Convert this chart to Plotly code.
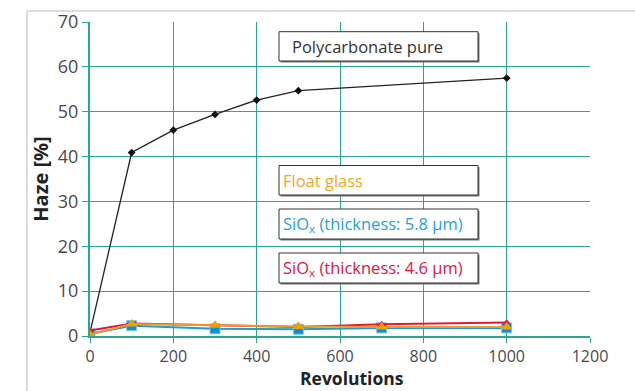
import plotly.graph_objects as go

# ---- data ----
pc_x = [0, 100, 200, 300, 400, 500, 1000]
pc_y = [0.8, 40.9, 45.9, 49.4, 52.6, 54.7, 57.5]

glass_x = [0, 100, 300, 500, 700, 1000]
glass_y = [0.3, 2.7, 2.4, 2.1, 2.0, 2.0]

sio58_x = [0, 100, 300, 500, 700, 1000]
sio58_y = [0.5, 2.3, 1.6, 1.5, 1.8, 1.8]

sio46_x = [0, 100, 300, 500, 700, 1000]
sio46_y = [1.2, 2.8, 2.4, 2.0, 2.6, 3.0]

x_ticks = [0, 200, 400, 600, 800, 1000, 1200]
y_ticks = [0, 10, 20, 30, 40, 50, 60, 70]

labels = ["Polycarbonate pure", "Float glass",
          "SiO<sub>x</sub> (thickness: 5.8 µm)",
          "SiO<sub>x</sub> (thickness: 4.6 µm)"]
label_colors = ["#333333", "#f5a623", "#1ea1dc", "#e2163f"]

TEAL = "#2fa58f"
FONT = "Open Sans"

fig = go.Figure()
fig.add_trace(go.Scatter(x=pc_x, y=pc_y, mode="lines+markers",
                         line=dict(color="#222222", width=1.3),
                         marker=dict(symbol="diamond", size=6, color="#111111")))
fig.add_trace(go.Scatter(x=sio58_x, y=sio58_y, mode="lines+markers",
                         line=dict(color="#1a9be0", width=2),
                         marker=dict(symbol="square", size=10, color="#0a8fd8",
                                     line=dict(color="#7cc6ee", width=1))))
fig.add_trace(go.Scatter(x=sio46_x, y=sio46_y, mode="lines+markers",
                         line=dict(color="#e2163f", width=2),
                         marker=dict(symbol="triangle-up", size=7, color="#e2163f")))
fig.add_trace(go.Scatter(x=glass_x, y=glass_y, mode="lines+markers",
                         line=dict(color="#f29a1e", width=2),
                         marker=dict(symbol="triangle-up", size=10, color="#e8a30a")))

# label boxes (paper coords)
boxes = [(31.7, 61.0), (165.5, 195.0), (209.0, 239.0), (253.0, 283.0)]
def py(p):
    return (336 - p) / 314.0
bx0 = (279 - 90) / 500.0
bx1 = (478 - 90) / 500.0
shapes = []
annos = []
for (t, b), lab, col in zip(boxes, labels, label_colors):
    # shadow
    shapes.append(dict(type="rect", xref="paper", yref="paper",
                       x0=bx0 + 0.003, x1=bx1 + 0.003, y0=py(b) - 0.005, y1=py(t) - 0.005,
                       line=dict(width=0), fillcolor="#777777", layer="above"))
    shapes.append(dict(type="rect", xref="paper", yref="paper",
                       x0=bx0, x1=bx1, y0=py(b), y1=py(t),
                       line=dict(color="#333333", width=1), fillcolor="white", layer="above"))
    tx = bx0 + (11 if lab.startswith("Poly") else 2) / 500.0
    annos.append(dict(text=lab, xref="paper", yref="paper", x=tx, y=(py(b) + py(t)) / 2,
                      xanchor="left", yanchor="middle", showarrow=False,
                      font=dict(family=FONT, size=16.5, color=col)))

# x-axis title as annotation
annos.append(dict(text="<b>Revolutions</b>", xref="paper", yref="paper",
                  x=(352 - 90) / 500.0, y=py(378), xanchor="center", yanchor="middle",
                  showarrow=False, font=dict(family=FONT, size=17.5, color="#222222")))

# gray outer frame
shapes.append(dict(type="line", xref="paper", yref="paper",
                   x0=(27 - 90) / 500.0, x1=1.2, y0=py(11), y1=py(11),
                   line=dict(color="#dddddd", width=2), layer="below"))
shapes.append(dict(type="line", xref="paper", yref="paper",
                   x0=(27 - 90) / 500.0, x1=(27 - 90) / 500.0, y0=py(11), y1=-0.3,
                   line=dict(color="#dddddd", width=2), layer="below"))

fig.update_layout(
    width=635, height=391,
    margin=dict(l=90, r=45, t=22, b=55, autoexpand=False),
    paper_bgcolor="white", plot_bgcolor="white",
    showlegend=False,
    shapes=shapes, annotations=annos,
    font=dict(family=FONT, size=15, color="#444444"),
)
fig.update_xaxes(range=[0, 1200], tickvals=x_ticks, showgrid=True, gridcolor=TEAL, gridwidth=1,
                 zeroline=False, showline=True, linecolor=TEAL, linewidth=2,
                 ticks="outside", ticklen=5, tickcolor=TEAL, automargin=False,
                 tickfont=dict(family=FONT, size=16, color="#4a4a4a"))
fig.update_yaxes(range=[0, 70], tickvals=y_ticks, showgrid=True, gridcolor=TEAL, gridwidth=1,
                 zeroline=False, showline=True, linecolor=TEAL, linewidth=2,
                 ticks="outside", ticklen=6, tickcolor=TEAL, automargin=False,
                 tickfont=dict(family=FONT, size=18, color="#4a4a4a"),
                 title=dict(text="<b>Haze [%]</b>", standoff=4,
                            font=dict(family=FONT, size=20, color="#222222")))

fig.write_html("out.html")
